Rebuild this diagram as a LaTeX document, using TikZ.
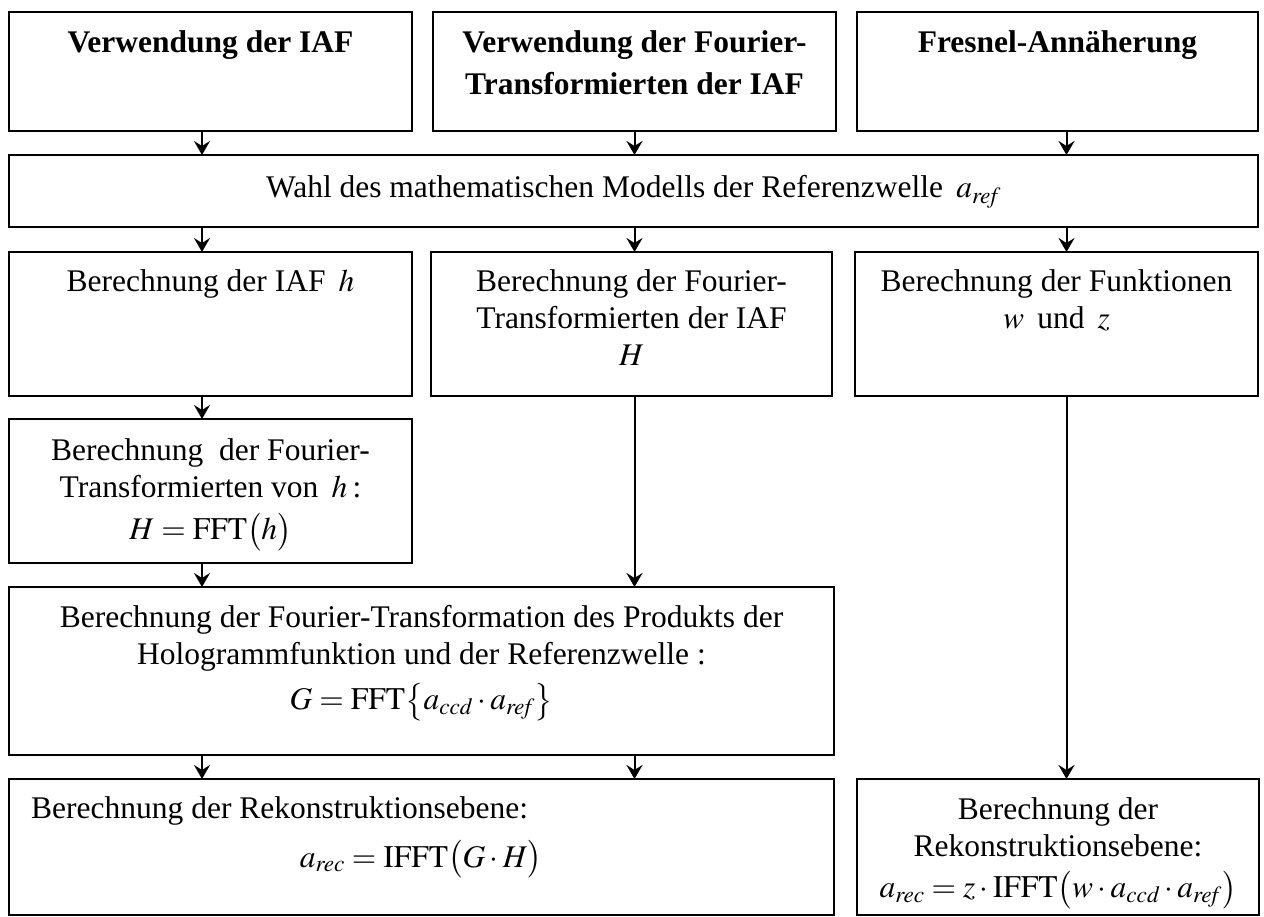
\documentclass[tikz,border=0pt]{standalone}
\usepackage{amsmath}
\usepackage{mathptmx}
\usepackage{fontspec}
\setmainfont{Liberation Serif}
\usetikzlibrary{arrows.meta}

\begin{document}
\begin{tikzpicture}[x=1pt,y=-1pt,
  box/.style={draw, line width=2pt, inner sep=0pt, outer sep=0pt},
  txt/.style={inner sep=0pt, anchor=base, font=\fontsize{31.5}{37}\selectfont},
  btxt/.style={txt, font=\fontsize{31.5}{37}\selectfont\bfseries},
  arr/.style={line width=2pt, -{Stealth[length=14pt,width=16pt,inset=5pt]}}]
\useasboundingbox (0,0) rectangle (1264,917);

% boxes
\node[box, minimum width=403pt, minimum height=119pt] (A1) at (210.5,71.5) {};
\node[box, minimum width=403pt, minimum height=119pt] (B1) at (634.5,71.5) {};
\node[box, minimum width=401pt, minimum height=119pt] (C1) at (1057.5,71.5) {};
\node[box, minimum width=1249pt, minimum height=72pt] (W) at (633.5,191) {};
\node[box, minimum width=403pt, minimum height=144pt] (A3) at (210.5,324) {};
\node[box, minimum width=401pt, minimum height=144pt] (B3) at (631.5,324) {};
\node[box, minimum width=403pt, minimum height=144pt] (C3) at (1056.5,324) {};
\node[box, minimum width=403pt, minimum height=144pt] (A4) at (210.5,491) {};
\node[box, minimum width=825pt, minimum height=168pt] (G) at (421.5,671) {};
\node[box, minimum width=825pt, minimum height=136pt] (R) at (421.5,847) {};
\node[box, minimum width=402pt, minimum height=136pt] (C5) at (1058,847) {};

% texts
\node[btxt] (tA1) at (210.5,53) {Verwendung der IAF};
\node[btxt] (tB1) at (634.5,53) {\begin{tabular}[t]{@{}c@{}}Verwendung der Fourier-\\[5pt]Transformierten der IAF\end{tabular}};
\node[btxt] (tC1) at (1057.5,53) {Fresnel-Annäherung};
\node[txt] (tW) at (633.5,198) {Wahl des mathematischen Modells der Referenzwelle \,$a_{\mathit{ref}}$};
\node[txt] (tA3) at (210.5,292) {Berechnung der IAF \,$h$};
\node[txt] (tB3) at (631.5,292) {\begin{tabular}[t]{@{}c@{}}Berechnung der Fourier-\\Transformierten der IAF\\$H$\end{tabular}};
\node[txt] (tC3) at (1056.5,292) {\begin{tabular}[t]{@{}c@{}}Berechnung der Funktionen\\$w$ \,und\, $z$\end{tabular}};
\node[txt] (tA4) at (210.5,460) {\begin{tabular}[t]{@{}c@{}}Berechnung\ \ der Fourier-\\Transformierten von \,$h$\,:\\[5pt]$H = \mathrm{FFT}\bigl(h\bigr)$\end{tabular}};
\node[txt] (tG) at (421.5,627) {\begin{tabular}[t]{@{}c@{}}Berechnung der Fourier-Transformation des Produkts der\\Hologrammfunktion und der Referenzwelle :\\[8pt]$G = \mathrm{FFT}\bigl\{a_{\mathit{ccd}}\cdot a_{\mathit{ref}}\bigr\}$\end{tabular}};
\node[txt, anchor=base west] (tR) at (31,818) {Berechnung der Rekonstruktionsebene:};
\node[txt] (tRf) at (421,867) {$a_{\mathit{rec}} = \mathrm{IFFT}\bigl(G\cdot H\bigr)$};
\node[txt] (tC5) at (1058,819) {\begin{tabular}[t]{@{}c@{}}Berechnung der\\Rekonstruktionsebene:\\[4pt]$a_{\mathit{rec}} = z\cdot\mathrm{IFFT}\bigl(w\cdot a_{\mathit{ccd}}\cdot a_{\mathit{ref}}\bigr)$\end{tabular}};

% arrow columns
\coordinate (xa) at (202,0);
\coordinate (xb) at (634.5,0);
\coordinate (xc) at (1066.5,0);

\draw[arr] (A1.south -| xa) -- (W.north -| xa);
\draw[arr] (B1.south -| xb) -- (W.north -| xb);
\draw[arr] (C1.south -| xc) -- (W.north -| xc);
\draw[arr] (W.south -| xa) -- (A3.north -| xa);
\draw[arr] (W.south -| xb) -- (B3.north -| xb);
\draw[arr] (W.south -| xc) -- (C3.north -| xc);
\draw[arr] (A3.south -| xa) -- (A4.north -| xa);
\draw[arr] (A4.south -| xa) -- (G.north -| xa);
\draw[arr] (B3.south -| xb) -- (G.north -| xb);
\draw[arr] (G.south -| xa) -- (R.north -| xa);
\draw[arr] (G.south -| xb) -- (R.north -| xb);
\draw[arr] (C3.south -| xc) -- (C5.north -| xc);
\end{tikzpicture}
\end{document}
